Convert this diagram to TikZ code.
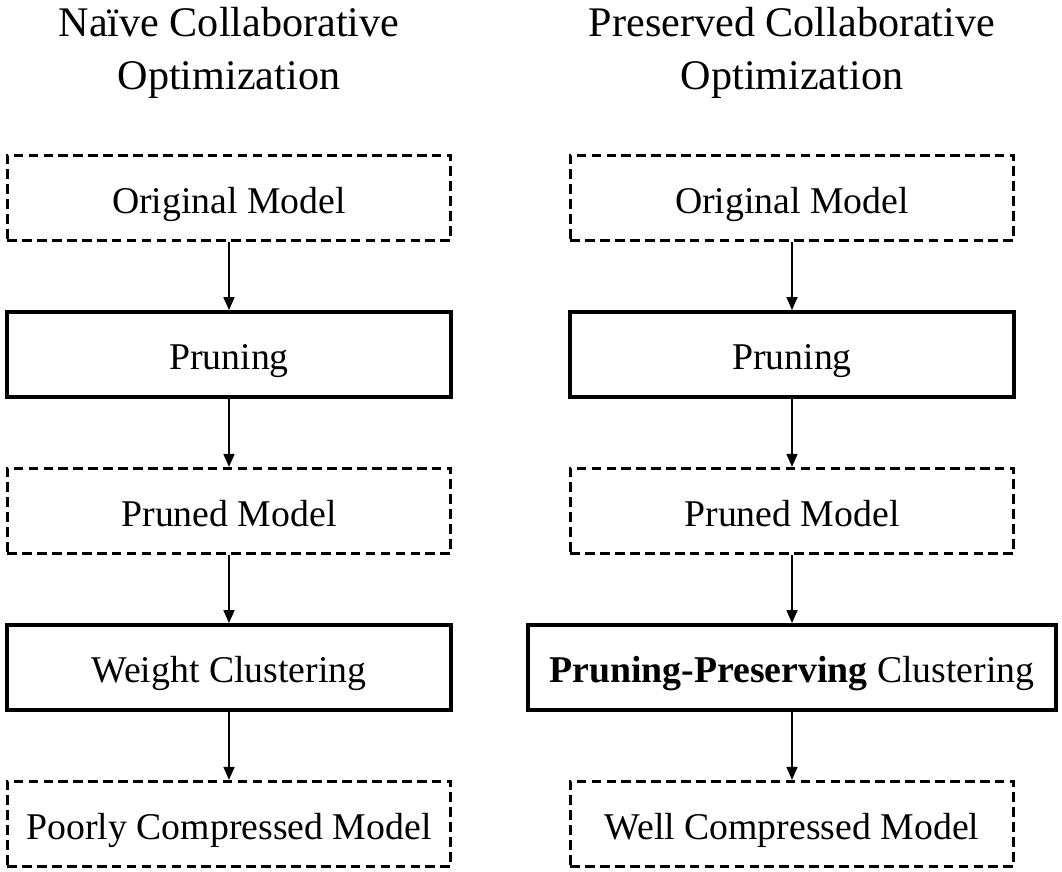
\documentclass[tikz,border=0pt]{standalone}
\usepackage{fontspec}
\setmainfont{Liberation Serif}
\usetikzlibrary{positioning,arrows.meta}

\begin{document}
\begin{tikzpicture}[x=0.02cm,y=-0.02cm,
		title/.style={align=center,font=\fontsize{24}{30}\selectfont},
		modelbox/.style={draw,dash pattern=on 5.5pt off 3pt,line width=1.8pt,minimum width=8.87cm,minimum height=1.70cm,text height=17.6pt,text depth=0pt,font=\fontsize{21.5}{26}\selectfont},
		stagebox/.style={draw,line width=2.2pt,minimum width=8.87cm,minimum height=1.70cm,text height=17.6pt,text depth=0pt,font=\fontsize{21.5}{26}\selectfont},
		flow/.style={line width=1pt,-{Triangle[length=0.26cm,width=0.22cm]}},
		node distance=1.36cm]
		\useasboundingbox (0,0) rectangle (1062,872);
		% left column
		\node[title] (naive) at (229,53) {Naïve Collaborative\\Optimization};
		\node[modelbox] (lorig) at (229,198) {Original Model};
		\node[stagebox,below=of lorig] (lprune) {Pruning};
		\node[modelbox,below=of lprune] (lpruned) {Pruned Model};
		\node[stagebox,below=of lpruned] (lclust) {Weight Clustering};
		\node[modelbox,below=of lclust] (lout) {Poorly Compressed Model};
		% right column
		\node[title] (preserved) at (792,53) {Preserved Collaborative\\Optimization};
		\node[modelbox] (rorig) at (792,198) {Original Model};
		\node[stagebox,below=of rorig] (rprune) {Pruning};
		\node[modelbox,below=of rprune] (rpruned) {Pruned Model};
		\node[stagebox,minimum width=10.55cm,below=of rpruned] (rclust) {\textbf{Pruning-Preserving} Clustering};
		\node[modelbox,below=of rclust] (rout) {Well Compressed Model};
		% arrows
		\draw[flow] (lorig) -- (lprune);
		\draw[flow] (lprune) -- (lpruned);
		\draw[flow] (lpruned) -- (lclust);
		\draw[flow] (lclust) -- (lout);
		\draw[flow] (rorig) -- (rprune);
		\draw[flow] (rprune) -- (rpruned);
		\draw[flow] (rpruned) -- (rclust);
		\draw[flow] (rclust) -- (rout);
	\end{tikzpicture}
\end{document}
